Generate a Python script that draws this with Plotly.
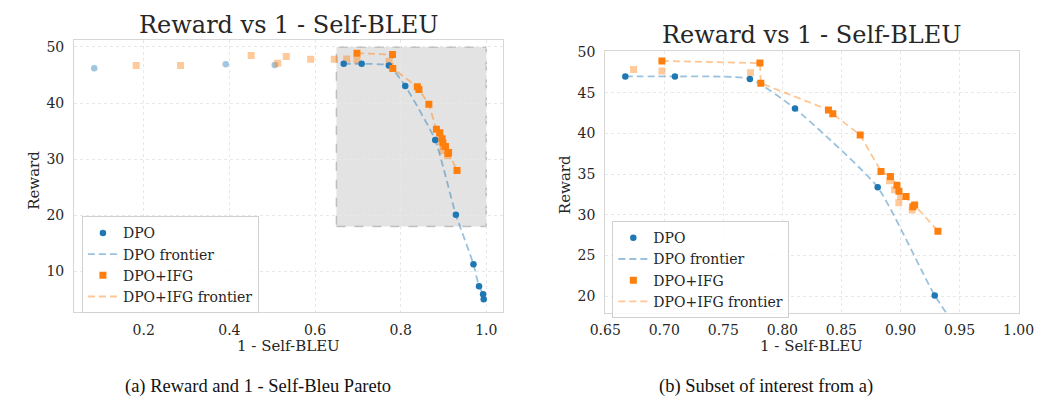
import plotly.graph_objects as go

# ---------------- data ----------------
dpo_front_x = [0.667, 0.709, 0.7725, 0.8107, 0.8807, 0.929, 0.970, 0.983, 0.9925, 0.994]
dpo_front_y = [47.0, 47.0, 46.7, 43.05, 33.4, 20.1, 11.3, 7.35, 5.95, 5.05]
dpo_dom_x = [0.0845, 0.3915, 0.506]
dpo_dom_y = [46.2, 46.9, 46.8]

ifg_front_x = [0.698, 0.781, 0.7817, 0.839, 0.8427, 0.8659, 0.8835, 0.8915, 0.897, 0.8987,
               0.9047, 0.9105, 0.9120, 0.9317]
ifg_front_y = [48.9, 48.64, 46.18, 42.89, 42.41, 39.80, 35.34, 34.70, 33.65, 32.9,
               32.25, 31.0, 31.2, 28.0]
ifg_dom_x = [0.1825, 0.286, 0.451, 0.513, 0.533, 0.590, 0.645, 0.674, 0.698, 0.773,
             0.8907, 0.895, 0.900, 0.8986, 0.9099]
ifg_dom_y = [46.7, 46.7, 48.5, 47.1, 48.3, 47.8, 47.8, 47.87, 47.67, 47.47,
             34.2, 33.1, 32.25, 31.5, 30.6]

titles = ["Reward vs 1 - Self-BLEU", "Reward vs 1 - Self-BLEU"]
xlabel = "1 - Self-BLEU"
ylabel = "Reward"
captions = ["(a) Reward and 1 - Self-Bleu Pareto", "(b) Subset of interest from a)"]
left_xticks = [0.2, 0.4, 0.6, 0.8, 1.0]
left_yticks = [10, 20, 30, 40, 50]
right_xticks = [0.65, 0.70, 0.75, 0.80, 0.85, 0.90, 0.95, 1.00]
right_yticks = [20, 25, 30, 35, 40, 45, 50]
zoom_box = dict(x0=0.65, x1=1.0, y0=18, y1=50)

# ---------------- style ----------------
W, H = 1053, 402
BLUE = "#1f77b4"
ORANGE = "#ff7f0e"
BLUE_L = "rgba(31,119,180,0.45)"
ORANGE_L = "rgba(255,127,14,0.45)"
BLUE_F = "rgba(31,119,180,0.42)"
ORANGE_F = "rgba(255,127,14,0.42)"
FONT = "DejaVu Serif"
TXT = "#262626"

def px(x):
    return x / W

def py(y):
    return 1 - y / H

fig = go.Figure()

def add_panel(xa, ya, legend):
    fig.add_trace(go.Scatter(x=dpo_dom_x, y=dpo_dom_y, mode="markers", xaxis=xa, yaxis=ya,
                             marker=dict(color=BLUE_F, size=6.5, symbol="circle"),
                             showlegend=False, hoverinfo="skip"))
    fig.add_trace(go.Scatter(x=ifg_dom_x, y=ifg_dom_y, mode="markers", xaxis=xa, yaxis=ya,
                             marker=dict(color=ORANGE_F, size=7, symbol="square"),
                             showlegend=False, hoverinfo="skip"))
    fig.add_trace(go.Scatter(x=dpo_front_x, y=dpo_front_y, mode="markers", name="DPO",
                             xaxis=xa, yaxis=ya, legend=legend,
                             marker=dict(color=BLUE, size=6.5, symbol="circle")))
    fig.add_trace(go.Scatter(x=dpo_front_x, y=dpo_front_y, mode="lines", name="DPO frontier",
                             xaxis=xa, yaxis=ya, legend=legend,
                             line=dict(color=BLUE_L, width=1.8, dash="7px,4px",
                                       shape="spline", smoothing=0.5)))
    fig.add_trace(go.Scatter(x=ifg_front_x, y=ifg_front_y, mode="markers", name="DPO+IFG",
                             xaxis=xa, yaxis=ya, legend=legend,
                             marker=dict(color=ORANGE, size=7, symbol="square")))
    fig.add_trace(go.Scatter(x=ifg_front_x, y=ifg_front_y, mode="lines", name="DPO+IFG frontier",
                             xaxis=xa, yaxis=ya, legend=legend,
                             line=dict(color=ORANGE_L, width=1.8, dash="7px,4px")))

add_panel("x", "y", "legend")
add_panel("x2", "y2", "legend2")

axis_common = dict(showline=True, mirror=True, linecolor="#d6d6d6", linewidth=1.2,
                   showgrid=True, gridcolor="#e8e8e8", griddash="3px,3px", gridwidth=1,
                   zeroline=False, ticks="", tickfont=dict(family=FONT, size=14, color=TXT))

L = dict(x0=60, x1=502.7, y0=34, y1=310)
R = dict(x0=607.7, x1=1034, y0=45, y1=311)

fig.update_layout(
    width=W, height=H, margin=dict(l=0, r=0, t=0, b=0),
    plot_bgcolor="white", paper_bgcolor="white",
    font=dict(family=FONT, color=TXT),
    xaxis=dict(domain=[px(L["x0"]), px(L["x1"])], range=[0.0376, 1.040], tickvals=left_xticks,
               ticktext=[f"{v:.1f}" for v in left_xticks], anchor="y", ticklabelstandoff=5,
               **axis_common),
    yaxis=dict(domain=[py(L["y1"]), py(L["y0"])], range=[2.84, 51.17], tickvals=left_yticks,
               anchor="x", ticklabelstandoff=6, **axis_common),
    xaxis2=dict(domain=[px(R["x0"]), px(R["x1"])], range=[0.65, 1.0], tickvals=right_xticks,
                ticktext=[f"{v:.2f}" for v in right_xticks], anchor="y2", ticklabelstandoff=5,
                **axis_common),
    yaxis2=dict(domain=[py(R["y1"]), py(R["y0"])], range=[18, 50.1], tickvals=right_yticks,
                anchor="x2", ticklabelstandoff=6, **axis_common),
    legend=dict(x=px(68), y=py(213), xanchor="left", yanchor="top",
                bgcolor="rgba(255,255,255,0.85)", bordercolor="#d0d0d0", borderwidth=1,
                font=dict(family=FONT, size=14, color=TXT), tracegroupgap=0),
    legend2=dict(x=px(615), y=py(218), xanchor="left", yanchor="top",
                 bgcolor="rgba(255,255,255,0.85)", bordercolor="#d0d0d0", borderwidth=1,
                 font=dict(family=FONT, size=14, color=TXT), tracegroupgap=0),
    showlegend=True,
)

fig.add_shape(type="rect", xref="x", yref="y", layer="below",
              x0=zoom_box["x0"], x1=zoom_box["x1"], y0=zoom_box["y0"], y1=zoom_box["y1"],
              fillcolor="rgba(128,128,128,0.22)",
              line=dict(color="rgba(150,150,150,0.55)", width=1.5, dash="dash"))

ann = []
ann.append(dict(text=titles[0], x=px((L["x0"] + L["x1"]) / 2), y=py(18), font=dict(size=24)))
ann.append(dict(text=titles[1], x=px((R["x0"] + R["x1"]) / 2), y=py(29), font=dict(size=24)))
ann.append(dict(text=xlabel, x=px((L["x0"] + L["x1"]) / 2), y=py(345), font=dict(size=15)))
ann.append(dict(text=xlabel, x=px((R["x0"] + R["x1"]) / 2), y=py(345), font=dict(size=15)))
ann.append(dict(text=ylabel, x=px(18.5), y=py(176), textangle=-90, font=dict(size=15)))
ann.append(dict(text=ylabel, x=px(566.5), y=py(181), textangle=-90, font=dict(size=15)))
ann.append(dict(text=captions[0], x=px(250), y=py(386),
                font=dict(size=18.5, family="Liberation Serif", color="#111111")))
ann.append(dict(text=captions[1], x=px(773), y=py(386),
                font=dict(size=18.5, family="Liberation Serif", color="#111111")))
for a in ann:
    a.update(xref="paper", yref="paper", showarrow=False, xanchor="center", yanchor="middle")
    f = a["font"]
    f.setdefault("family", FONT)
    f.setdefault("color", TXT)
fig.update_layout(annotations=ann)

fig.write_html("out.html", config={"displayModeBar": False},
               post_script="document.body.style.margin='0';document.body.style.overflow='hidden';")
